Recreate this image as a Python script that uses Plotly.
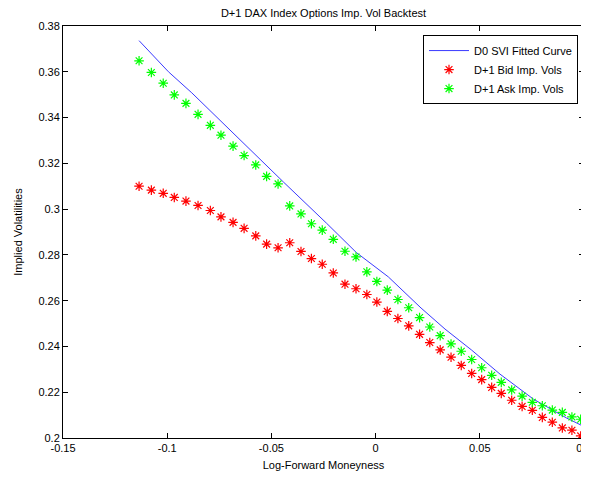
import plotly.graph_objects as go

# Log-forward moneyness of the quoted strikes
moneyness = [-0.1135, -0.1076, -0.1019, -0.0966, -0.0910, -0.0852, -0.0793, -0.0742, -0.0684, -0.0631,
             -0.0575, -0.0523, -0.0468, -0.0412, -0.0358, -0.0308, -0.0256, -0.0203, -0.0147, -0.0094,
             -0.0042, 0.0006, 0.0056, 0.0107, 0.0159, 0.0211, 0.0260, 0.0310, 0.0362, 0.0411,
             0.0461, 0.0509, 0.0557, 0.0603, 0.0653, 0.0703, 0.0752, 0.0800, 0.0848, 0.0896,
             0.0942, 0.0984]

bid_vols = [0.3100, 0.3083, 0.3069, 0.3051, 0.3035, 0.3016, 0.2994, 0.2966, 0.2942, 0.2916,
            0.2883, 0.2847, 0.2831, 0.2853, 0.2815, 0.2784, 0.2759, 0.2721, 0.2672, 0.2652,
            0.2627, 0.2594, 0.2553, 0.2522, 0.2490, 0.2453, 0.2417, 0.2385, 0.2353, 0.2317,
            0.2282, 0.2255, 0.2221, 0.2195, 0.2165, 0.2138, 0.2121, 0.2090, 0.2069, 0.2044,
            0.2034, 0.2009]

ask_vols = [0.3648, 0.3597, 0.3550, 0.3499, 0.3462, 0.3414, 0.3366, 0.3323, 0.3275, 0.3234,
            0.3193, 0.3143, 0.3110, 0.3014, 0.2979, 0.2936, 0.2908, 0.2868, 0.2816, 0.2791,
            0.2726, 0.2684, 0.2646, 0.2605, 0.2569, 0.2526, 0.2485, 0.2447, 0.2411, 0.2379,
            0.2343, 0.2307, 0.2274, 0.2243, 0.2210, 0.2183, 0.2156, 0.2141, 0.2122, 0.2112,
            0.2092, 0.2082]

# D0 SVI fitted curve
svi_x = [-0.1135, -0.0994, -0.0882, -0.0635, -0.0443, -0.0235, -0.0092, 0.0061, 0.0218, 0.0333,
         0.0461, 0.0597, 0.0757, 0.0917, 0.1000]
svi_y = [0.3736, 0.3600, 0.3508, 0.3287, 0.3119, 0.2938, 0.2810, 0.2704, 0.2568, 0.2476,
         0.2384, 0.2279, 0.2170, 0.2087, 0.2050]

x_ticks = [-0.15, -0.1, -0.05, 0, 0.05, 0.1]
x_tick_text = ["-0.15", "-0.1", "-0.05", "0", "0.05", "0.1"]
y_ticks = [0.2, 0.22, 0.24, 0.26, 0.28, 0.3, 0.32, 0.34, 0.36, 0.38]
y_tick_text = ["0.2", "0.22", "0.24", "0.26", "0.28", "0.3", "0.32", "0.34", "0.36", "0.38"]

FONT = "Liberation Sans, Arial, Helvetica, sans-serif"

# The page body adds an 8px offset; the figure is sized to fit the window.
W, H = 581, 471
ML, MR, MT, MB = 55, 5, 18, 41

fig = go.Figure()
fig.add_trace(go.Scatter(x=svi_x, y=svi_y, mode="lines", name="D0 SVI Fitted Curve",
                         line=dict(color="#3a3aff", width=1)))
fig.add_trace(go.Scatter(x=moneyness, y=bid_vols, mode="markers", name="D+1 Bid Imp. Vols",
                         marker=dict(symbol="asterisk-open", size=8, color="#ff0000",
                                     line=dict(color="#ff0000", width=1.2))))
fig.add_trace(go.Scatter(x=moneyness, y=ask_vols, mode="markers", name="D+1 Ask Imp. Vols",
                         marker=dict(symbol="asterisk-open", size=8, color="#00ff00",
                                     line=dict(color="#00ff00", width=1.2))))

axis_common = dict(showline=True, linecolor="black", linewidth=1, mirror="ticks",
                   ticks="inside", ticklen=5, tickcolor="black", showgrid=False,
                   zeroline=False, automargin=False, ticklabeloverflow="allow",
                   tickfont=dict(family=FONT, size=11, color="black"))

fig.update_layout(
    width=W, height=H,
    margin=dict(l=ML, r=MR, t=MT, b=MB),
    paper_bgcolor="white", plot_bgcolor="white",
    font=dict(family=FONT, size=11, color="black"),
    title=dict(text="D+1 DAX Index Options Imp. Vol Backtest",
               x=(ML + (W - ML - MR) / 2) / W, xanchor="center",
               y=1 - 5 / H, yanchor="middle",
               font=dict(family=FONT, size=11, color="black")),
    xaxis=dict(range=[-0.15, 0.1], tickvals=x_ticks, ticktext=x_tick_text,
               title=dict(text="Log-Forward Moneyness", standoff=8,
                          font=dict(family=FONT, size=11)), **axis_common),
    yaxis=dict(range=[0.2, 0.38], tickvals=y_ticks, ticktext=y_tick_text,
               title=dict(text="Implied Volatilities", standoff=13,
                          font=dict(family=FONT, size=11)), **axis_common),
    legend=dict(x=0.9885, xanchor="right", y=0.978, yanchor="top",
                bgcolor="white", bordercolor="black", borderwidth=1,
                font=dict(family=FONT, size=11, color="black"),
                tracegroupgap=0, itemwidth=40),
    showlegend=True,
)

fig.write_html("out.html")
